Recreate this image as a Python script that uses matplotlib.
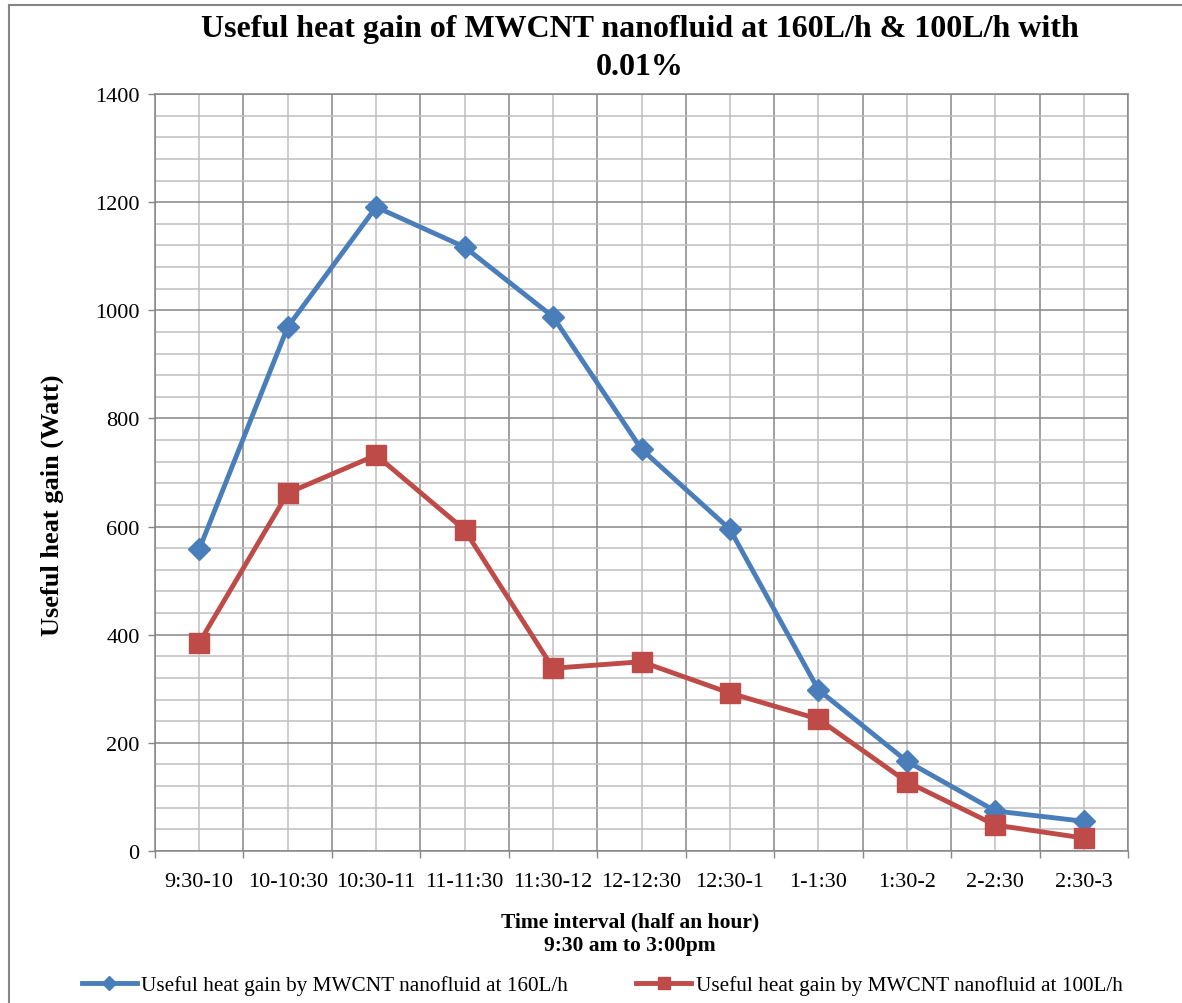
import matplotlib.pyplot as plt
import numpy as np
from matplotlib.patches import Rectangle
from matplotlib.ticker import MultipleLocator

plt.rcParams['font.family'] = ['Liberation Serif', 'DejaVu Serif']

intervals = ['9:30-10', '10-10:30', '10:30-11', '11-11:30', '11:30-12', '12-12:30',
             '12:30-1', '1-1:30', '1:30-2', '2-2:30', '2:30-3']
gain_160 = [558, 969, 1191, 1117, 988, 743, 595, 298, 166, 74, 55]
gain_100 = [385, 662, 732, 594, 338, 350, 292, 244, 128, 48, 24]

blue = '#4A7EBB'
red = '#BE4B48'
grid_dark = '#868686'
grid_light = '#BFBFBF'

W, H = 1182, 1004
fig = plt.figure(figsize=(W / 100, H / 100), dpi=100)
ax = fig.add_axes([155 / W, 1 - 852 / H, (1128 - 155) / W, (852 - 95) / H])

x = np.arange(len(intervals))
ax.plot(x, gain_160, color=blue, lw=3.5, marker='D', ms=11.5,
        label='Useful heat gain by MWCNT nanofluid at 160L/h', zorder=3)
ax.plot(x, gain_100, color=red, lw=3.5, marker='s', ms=14,
        label='Useful heat gain by MWCNT nanofluid at 100L/h', zorder=3)

ax.set_xlim(-0.5, len(intervals) - 0.5)
ax.set_ylim(0, 1400)

# category boundaries get the ticks, labels sit at the centres
ax.set_xticks(np.arange(-0.5, len(intervals)), labels=[''] * (len(intervals) + 1))
ax.set_xticks(x, labels=intervals, minor=True)
ax.tick_params(axis='x', which='major', length=5, width=1, color=grid_dark, direction='out')
ax.tick_params(axis='x', which='minor', length=0, labelsize=16, pad=15)

ax.yaxis.set_major_locator(MultipleLocator(200))
ax.yaxis.set_minor_locator(MultipleLocator(40))
ax.tick_params(axis='y', which='major', length=5, width=1, color=grid_dark, labelsize=16, pad=6)
ax.tick_params(axis='y', which='minor', length=0)

ax.grid(which='major', color=grid_dark, lw=1.1)
ax.grid(which='minor', color=grid_light, lw=1.1)
ax.set_axisbelow(True)
for s in ax.spines.values():
    s.set_color(grid_dark)
    s.set_linewidth(1.1)

ax.set_ylabel('Useful heat gain (Watt)', fontsize=19, fontweight='bold')
ax.yaxis.set_label_coords(-0.094, 0.458)

fig.text(640 / W, 1 - 30 / H, 'Useful heat gain of MWCNT nanofluid at 160L/h & 100L/h with',
         ha='center', va='center', fontsize=23, fontweight='bold')
fig.text(640 / W, 1 - 68 / H, '0.01%', ha='center', va='center', fontsize=23, fontweight='bold')

fig.text(630 / W, 1 - 922 / H, 'Time interval (half an hour)',
         ha='center', va='center', fontsize=15.5, fontweight='bold')
fig.text(630 / W, 1 - 946 / H, '9:30 am to 3:00pm',
         ha='center', va='center', fontsize=15.5, fontweight='bold')

fig.legend(loc='center', bbox_to_anchor=(602 / W, 1 - 986 / H), ncol=2, frameon=False,
           fontsize=15.3, handlelength=2.6, handletextpad=0.2, columnspacing=3.2,
           markerscale=0.6, borderpad=0)

fig.patches.append(Rectangle((9 / W, -0.1), 1.2, 1.1 - 6 / H, transform=fig.transFigure,
                             fill=False, edgecolor=grid_dark, lw=1.5))

fig.savefig('out.png', dpi=100)
